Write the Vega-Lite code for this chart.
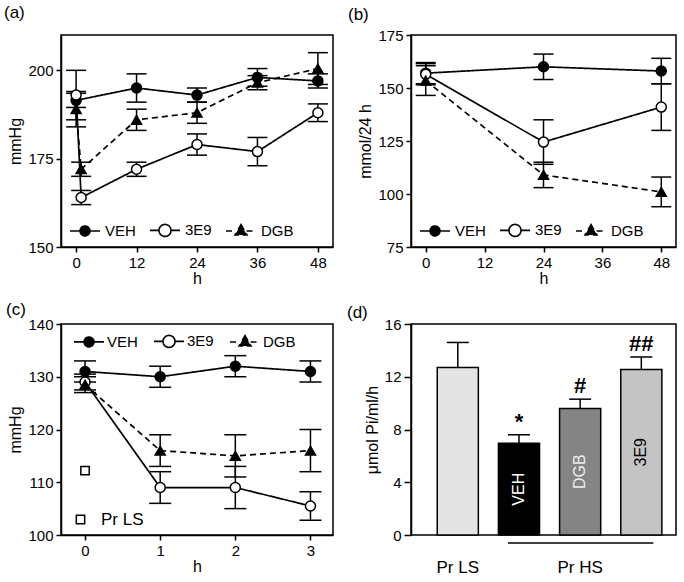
{
  "$schema": "https://vega.github.io/schema/vega-lite/v6.json",
  "padding": {"left": 3, "top": 3, "right": 0, "bottom": 0},
  "background": "white",
  "config": {
    "font": "Liberation Sans",
    "view": {"stroke": "black", "strokeWidth": 1.5},
    "axis": {"grid": false, "labelFontSize": 15, "titleFontSize": 16, "labelColor": "black", "titleColor": "black", "titleFontWeight": "normal", "tickColor": "black", "domainColor": "black", "tickSize": 5, "tickWidth": 1.5, "domainWidth": 1.5, "labelPadding": 3, "labelFont": "Liberation Sans", "titleFont": "Liberation Sans"},
    "axisX": {"titlePadding": 0},
    "title": {"fontSize": 17, "fontWeight": "normal", "anchor": "start", "frame": "group", "font": "Liberation Sans", "color": "black"},
    "legend": {"labelFontSize": 15, "labelColor": "black", "labelFont": "Liberation Sans", "padding": 0}
  },
  "resolve": {
    "scale": {"fill": "independent", "shape": "independent", "strokeDash": "independent", "color": "independent"},
    "legend": {"fill": "independent", "shape": "independent", "strokeDash": "independent", "color": "independent"}
  },
  "datasets": {
    "a": [
      {"g": "VEH", "h": 0, "m": 191.5, "e": 2},
      {"g": "VEH", "h": 12, "m": 195, "e": 4},
      {"g": "VEH", "h": 24, "m": 193, "e": 2},
      {"g": "VEH", "h": 36, "m": 198, "e": 2.5},
      {"g": "VEH", "h": 48, "m": 197, "e": 2},
      {"g": "3E9", "h": 0, "m": 193, "e": 7},
      {"g": "3E9", "h": 1, "m": 164, "e": 2},
      {"g": "3E9", "h": 12, "m": 172, "e": 2},
      {"g": "3E9", "h": 24, "m": 179, "e": 3},
      {"g": "3E9", "h": 36, "m": 177, "e": 4},
      {"g": "3E9", "h": 48, "m": 188, "e": 2.5},
      {"g": "DGB", "h": 0, "m": 189, "e": 5},
      {"g": "DGB", "h": 1, "m": 172, "e": 2},
      {"g": "DGB", "h": 12, "m": 186, "e": 3},
      {"g": "DGB", "h": 24, "m": 188, "e": 3},
      {"g": "DGB", "h": 36, "m": 196.5, "e": 2},
      {"g": "DGB", "h": 48, "m": 200.5, "e": 4.5}
    ],
    "b": [
      {"g": "VEH", "h": 0, "m": 157, "e": 5},
      {"g": "VEH", "h": 24, "m": 160, "e": 6},
      {"g": "VEH", "h": 48, "m": 158, "e": 6},
      {"g": "3E9", "h": 0, "m": 156.5, "e": 5},
      {"g": "3E9", "h": 24, "m": 124.5, "e": 10.5},
      {"g": "3E9", "h": 48, "m": 141, "e": 11},
      {"g": "DGB", "h": 0, "m": 153.5, "e": 7},
      {"g": "DGB", "h": 24, "m": 109, "e": 6},
      {"g": "DGB", "h": 48, "m": 101, "e": 7}
    ],
    "c": [
      {"g": "VEH", "h": 0, "m": 131, "e": 2},
      {"g": "VEH", "h": 1, "m": 130, "e": 2},
      {"g": "VEH", "h": 2, "m": 132, "e": 2},
      {"g": "VEH", "h": 3, "m": 131, "e": 2},
      {"g": "3E9", "h": 0, "m": 129, "e": 1.5},
      {"g": "3E9", "h": 1, "m": 109, "e": 3},
      {"g": "3E9", "h": 2, "m": 109, "e": 4},
      {"g": "3E9", "h": 3, "m": 105.5, "e": 2.7},
      {"g": "DGB", "h": 0, "m": 128.5, "e": 1.5},
      {"g": "DGB", "h": 1, "m": 116, "e": 3},
      {"g": "DGB", "h": 2, "m": 115, "e": 4},
      {"g": "DGB", "h": 3, "m": 116, "e": 4}
    ],
    "cls": [
      {"lab": "Pr LS", "h": 0, "m": 112.2}
    ],
    "d": [
      {"g": "Pr LS", "v": 12.7, "hi": 14.6, "ann": ""},
      {"g": "VEH", "v": 6.95, "hi": 7.6, "ann": "*"},
      {"g": "DGB", "v": 9.6, "hi": 10.3, "ann": "#"},
      {"g": "3E9", "v": 12.55, "hi": 13.5, "ann": "##"}
    ],
    "dline": [
      {"from": "VEH", "to": "3E9"}
    ]
  },
  "columns": 2,
  "spacing": {"row": 77, "column": 78},
  "bounds": "flush",
  "concat": [
    {
      "width": 272, "height": 212,
      "title": {"text": "(a)", "dx": -57, "offset": 13},
      "data": {"name": "a"},
      "encoding": {
        "x": {"field": "h", "type": "quantitative", "scale": {"domain": [-3, 51], "nice": false, "zero": false}, "axis": {"values": [0, 12, 24, 36, 48], "title": "h"}},
        "y": {"field": "m", "type": "quantitative", "scale": {"domain": [150, 210], "nice": false, "zero": false}, "axis": {"values": [150, 175, 200], "title": "mmHg"}}
      },
      "resolve": {"scale": {"shape": "independent"}},
      "layer": [
        {"mark": {"type": "errorbar", "ticks": {"size": 20, "thickness": 1.5, "color": "black", "opacity": 1}, "rule": {"strokeWidth": 1.5, "color": "black", "opacity": 1}, "color": "black"}, "encoding": {"yError": {"field": "e"}, "detail": {"field": "g"}}},
        {"mark": {"type": "line", "strokeWidth": 1.7, "color": "black"},
         "encoding": {"strokeDash": {"field": "g", "type": "nominal", "scale": {"domain": ["VEH", "3E9", "DGB"], "range": [[1, 0], [1, 0], [6, 4]]},
           "legend": {"title": null, "orient": "none", "legendX": 8, "legendY": 179, "direction": "horizontal", "symbolSize": 900, "labelOffset": 4, "columnPadding": 10, "symbolStrokeColor": "black", "symbolStrokeWidth": 1.6, "symbolOpacity": 1,
             "symbolType": {"expr": "datum.value === 'DGB' ? 'M-1,0L-0.37,0M0.37,0L1,0M0,-0.42L0.4,0.26L-0.4,0.26Z' : datum.value === '3E9' ? 'M-1,0L-0.4,0M0.4,0L1,0M0.4,0A0.4,0.4,0,1,1,-0.4,0A0.4,0.4,0,1,1,0.4,0Z' : 'M-1,0L-0.33,0M0.33,0L1,0M0.33,0A0.33,0.33,0,1,1,-0.33,0A0.33,0.33,0,1,1,0.33,0Z'"}}}}},
        {"mark": {"type": "point", "filled": true, "size": 100, "stroke": "black", "strokeWidth": 1.5, "opacity": 1},
         "encoding": {
           "shape": {"field": "g", "type": "nominal", "scale": {"domain": ["VEH", "3E9", "DGB"], "range": ["circle", "circle", "triangle-up"]}, "legend": null},
           "fill": {"field": "g", "type": "nominal", "scale": {"domain": ["VEH", "3E9", "DGB"], "range": ["black", "white", "black"]}, "legend": null}}}
      ]
    },
    {
      "width": 265, "height": 212,
      "title": {"text": "(b)", "dx": -63, "offset": 4},
      "data": {"name": "b"},
      "encoding": {
        "x": {"field": "h", "type": "quantitative", "scale": {"domain": [-3, 51], "nice": false, "zero": false}, "axis": {"values": [0, 12, 24, 36, 48], "title": "h"}},
        "y": {"field": "m", "type": "quantitative", "scale": {"domain": [75, 175], "nice": false, "zero": false}, "axis": {"values": [75, 100, 125, 150, 175], "title": "mmol/24 h"}}
      },
      "resolve": {"scale": {"shape": "independent"}},
      "layer": [
        {"mark": {"type": "errorbar", "ticks": {"size": 20, "thickness": 1.5, "color": "black", "opacity": 1}, "rule": {"strokeWidth": 1.5, "color": "black", "opacity": 1}, "color": "black"}, "encoding": {"yError": {"field": "e"}, "detail": {"field": "g"}}},
        {"mark": {"type": "line", "strokeWidth": 1.7, "color": "black"},
         "encoding": {"strokeDash": {"field": "g", "type": "nominal", "scale": {"domain": ["VEH", "3E9", "DGB"], "range": [[1, 0], [1, 0], [6, 4]]},
           "legend": {"title": null, "orient": "none", "legendX": 8, "legendY": 179, "direction": "horizontal", "symbolSize": 900, "labelOffset": 4, "columnPadding": 10, "symbolStrokeColor": "black", "symbolStrokeWidth": 1.6, "symbolOpacity": 1,
             "symbolType": {"expr": "datum.value === 'DGB' ? 'M-1,0L-0.37,0M0.37,0L1,0M0,-0.42L0.4,0.26L-0.4,0.26Z' : datum.value === '3E9' ? 'M-1,0L-0.4,0M0.4,0L1,0M0.4,0A0.4,0.4,0,1,1,-0.4,0A0.4,0.4,0,1,1,0.4,0Z' : 'M-1,0L-0.33,0M0.33,0L1,0M0.33,0A0.33,0.33,0,1,1,-0.33,0A0.33,0.33,0,1,1,0.33,0Z'"}}}}},
        {"mark": {"type": "point", "filled": true, "size": 100, "stroke": "black", "strokeWidth": 1.5, "opacity": 1},
         "encoding": {
           "shape": {"field": "g", "type": "nominal", "scale": {"domain": ["VEH", "3E9", "DGB"], "range": ["circle", "circle", "triangle-up"]}, "legend": null},
           "fill": {"field": "g", "type": "nominal", "scale": {"domain": ["VEH", "3E9", "DGB"], "range": ["black", "white", "black"]}, "legend": null}}}
      ]
    },
    {
      "width": 272, "height": 211,
      "title": {"text": "(c)", "dx": -55, "offset": -2},
      "data": {"name": "c"},
      "encoding": {
        "x": {"field": "h", "type": "quantitative", "scale": {"domain": [-0.32, 3.3], "nice": false, "zero": false}, "axis": {"values": [0, 1, 2, 3], "title": "h"}},
        "y": {"field": "m", "type": "quantitative", "scale": {"domain": [100, 140], "nice": false, "zero": false}, "axis": {"values": [100, 110, 120, 130, 140], "title": "mmHg"}}
      },
      "resolve": {"scale": {"shape": "independent"}},
      "layer": [
        {"mark": {"type": "errorbar", "ticks": {"size": 22, "thickness": 1.5, "color": "black", "opacity": 1}, "rule": {"strokeWidth": 1.5, "color": "black", "opacity": 1}, "color": "black"}, "encoding": {"yError": {"field": "e"}, "detail": {"field": "g"}}},
        {"mark": {"type": "line", "strokeWidth": 1.7, "color": "black"},
         "encoding": {"strokeDash": {"field": "g", "type": "nominal", "scale": {"domain": ["VEH", "3E9", "DGB"], "range": [[1, 0], [1, 0], [6, 4]]},
           "legend": {"title": null, "orient": "none", "legendX": 12, "legendY": 1, "direction": "horizontal", "symbolSize": 900, "labelOffset": 2, "columnPadding": 12, "symbolStrokeColor": "black", "symbolStrokeWidth": 1.6, "symbolOpacity": 1,
             "symbolType": {"expr": "datum.value === 'DGB' ? 'M-1,0L-0.37,0M0.37,0L1,0M0,-0.42L0.4,0.26L-0.4,0.26Z' : datum.value === '3E9' ? 'M-1,0L-0.4,0M0.4,0L1,0M0.4,0A0.4,0.4,0,1,1,-0.4,0A0.4,0.4,0,1,1,0.4,0Z' : 'M-1,0L-0.33,0M0.33,0L1,0M0.33,0A0.33,0.33,0,1,1,-0.33,0A0.33,0.33,0,1,1,0.33,0Z'"}}}}},
        {"mark": {"type": "point", "filled": true, "size": 100, "stroke": "black", "strokeWidth": 1.5, "opacity": 1},
         "encoding": {
           "shape": {"field": "g", "type": "nominal", "scale": {"domain": ["VEH", "3E9", "DGB"], "range": ["circle", "circle", "triangle-up"]}, "legend": null},
           "fill": {"field": "g", "type": "nominal", "scale": {"domain": ["VEH", "3E9", "DGB"], "range": ["black", "white", "black"]}, "legend": null}}},
        {"data": {"name": "cls"},
         "mark": {"type": "point", "filled": false, "size": 70, "color": "black", "strokeWidth": 1.5, "opacity": 1},
         "encoding": {"shape": {"field": "lab", "type": "nominal", "scale": {"domain": ["Pr LS"], "range": ["square"]},
           "legend": {"title": null, "orient": "none", "legendX": 11, "legendY": 187, "symbolSize": 70, "symbolStrokeWidth": 1.5, "symbolStrokeColor": "black", "labelFontSize": 17, "labelOffset": 12}}}}
      ]
    },
    {
      "width": 265, "height": 211,
      "title": {"text": "(d)", "dx": -64, "offset": -5},
      "data": {"name": "d"},
      "encoding": {
        "x": {"field": "g", "type": "nominal", "sort": null,
          "scale": {"domain": ["Pr LS", "VEH", "DGB", "3E9"], "paddingInner": 0.328, "paddingOuter": 0.33, "align": 0.65},
          "axis": {"title": null, "ticks": false, "domain": false, "labelAngle": 0, "labelPadding": 24, "labelFontSize": 17,
            "labelExpr": "datum.value === 'Pr LS' ? 'Pr LS' : datum.value === 'DGB' ? 'Pr HS' : ''"}}
      },
      "layer": [
        {"mark": {"type": "bar", "stroke": "black", "strokeWidth": 1.5},
         "encoding": {
           "y": {"field": "v", "type": "quantitative", "scale": {"domain": [0, 16], "nice": false}, "axis": {"values": [0, 4, 8, 12, 16], "title": "μmol Pi/ml/h", "tickSize": 7}},
           "fill": {"field": "g", "type": "nominal", "scale": {"domain": ["Pr LS", "VEH", "DGB", "3E9"], "range": ["#e4e4e4", "#000000", "#848484", "#c4c4c4"]}, "legend": null}}},
        {"mark": {"type": "rule", "strokeWidth": 1.5, "color": "black"},
         "encoding": {"y": {"field": "v", "type": "quantitative"}, "y2": {"field": "hi"}}},
        {"mark": {"type": "tick", "thickness": 1.5, "size": 22, "color": "black", "opacity": 1},
         "encoding": {"y": {"field": "hi", "type": "quantitative"}}},
        {"mark": {"type": "text", "baseline": "bottom", "dy": -1, "fontSize": 22, "fontWeight": "bold", "color": "black"},
         "encoding": {"y": {"field": "hi", "type": "quantitative"}, "text": {"field": "ann"}}},
        {"transform": [{"filter": "datum.g !== 'Pr LS'"}, {"calculate": "datum.v / 2", "as": "mid"}],
         "mark": {"type": "text", "angle": 270, "fontSize": 16, "baseline": "middle", "align": "center", "fill": {"expr": "datum.g === '3E9' ? 'black' : (datum.g === 'DGB' ? '#eeeeee' : 'white')"}},
         "encoding": {"y": {"field": "mid", "type": "quantitative"}, "text": {"field": "g"}}},
        {"data": {"name": "dline"},
         "mark": {"type": "rule", "strokeWidth": 1.5, "color": "black", "clip": false, "xOffset": -11, "x2Offset": 12},
         "encoding": {"x": {"field": "from", "type": "nominal"}, "x2": {"field": "to"}, "y": {"datum": -0.6}}}
      ]
    }
  ]
}
